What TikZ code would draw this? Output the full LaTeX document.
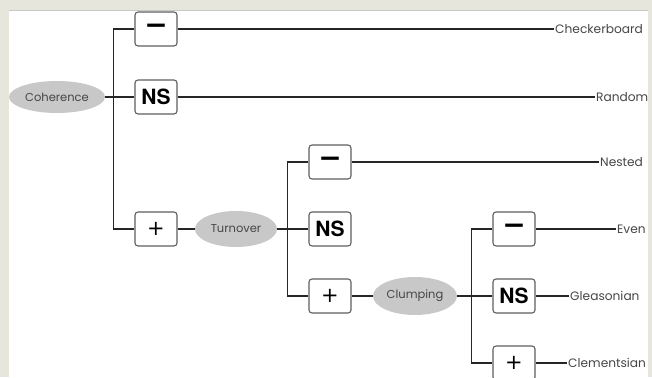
\documentclass[tikz,border=0pt]{standalone}
\usepackage{fontspec}
\setmainfont{Poppins}
\newfontfamily\signfont{TeX Gyre Heros}
\newfontfamily\markfont{DejaVu Sans}
\usetikzlibrary{shapes.geometric, positioning}

\definecolor{framebg}{RGB}{230,230,220}
\definecolor{frameedge}{RGB}{200,200,200}
\definecolor{ovalgray}{RGB}{200,200,200}
\definecolor{boxline}{RGB}{95,95,95}
\definecolor{wordgray}{RGB}{70,70,70}

\tikzset{
  factor/.style={ellipse, fill=ovalgray, inner sep=0pt, text=wordgray,
    font=\fontsize{11.5}{12}\selectfont},
  verdict/.style={draw=boxline, line width=1.1pt, rounded corners=3pt, fill=white,
    minimum width=42pt, minimum height=34pt, inner sep=0pt},
  result/.style={anchor=west, inner sep=1pt, text=wordgray,
    font=\fontsize{12.2}{13}\selectfont},
  link/.style={line width=1.8pt, black!85}
}
\newcommand{\minussign}{{\markfont\bfseries\fontsize{28}{28}\selectfont −}}
\newcommand{\plussign}{{\markfont\fontsize{21}{21}\selectfont +}}
\newcommand{\nssign}{{\signfont\bfseries\fontsize{21}{21}\selectfont NS}}

\begin{document}
\begin{tikzpicture}[x=1pt, y=-1pt]
  % frame
  \useasboundingbox (0,0) rectangle (652,377);
  \fill[framebg] (0,0) rectangle (652,377);
  \fill[white] (9,10) rectangle (648,377);
  \draw[frameedge, line width=0.8pt] (9,10) -- (648,10);
  \clip (9,10) rectangle (648,377);

  % first split
  \node[factor, minimum width=96pt, minimum height=32pt] (coh) at (57,97) {Coherence};
  \node[verdict] (negA) at (156,29) {\minussign};
  \node[verdict] (nsA) at (156,97) {\nssign};
  \node[verdict] (posA) at (156,229) {\plussign};

  % second split
  \node[factor, minimum width=82pt, minimum height=36pt] (turn) at (236,229) {Turnover};
  \node[verdict] (negB) at (330,162) {\minussign};
  \node[verdict] (nsB) at (330,229) {\nssign};
  \node[verdict] (posB) at (330,296) {\plussign};

  % third split
  \node[factor, minimum width=84pt, minimum height=38pt] (clump) at (415,296) {Clumping};
  \node[verdict] (negC) at (514,229) {\minussign};
  \node[verdict] (nsC) at (514,296) {\nssign};
  \node[verdict] (posC) at (514,363) {\plussign};

  % outcomes
  \node[result] (checker) at (554,29) {Checkerboard};
  \node[result] (random) at (595,97) {Random};
  \node[result] (nested) at (599,162) {Nested};
  \node[result] (even) at (616,229) {Even};
  \node[result] (gleason) at (569,296) {Gleasonian};
  \node[result] (clement) at (567,363) {Clementsian};

  % connectors
  \draw[link] (negA.west) -- ++(-21,0) |- (posA.west);
  \draw[link] (coh.east) -- (nsA.west);
  \draw[link] (negA.east) -- (checker.west);
  \draw[link] (nsA.east) -- (random.west);
  \draw[link] (posA.east) -- (turn.west);

  \draw[link] (negB.west) -- ++(-21,0) |- (posB.west);
  \draw[link] (turn.east) -- (nsB.west);
  \draw[link] (negB.east) -- (nested.west);
  \draw[link] (posB.east) -- (clump.west);

  \draw[link] (negC.west) -- ++(-21,0) |- (posC.west);
  \draw[link] (clump.east) -- (nsC.west);
  \draw[link] (negC.east) -- (even.west);
  \draw[link] (nsC.east) -- (gleason.west);
  \draw[link] (posC.east) -- (clement.west);
\end{tikzpicture}
\end{document}
